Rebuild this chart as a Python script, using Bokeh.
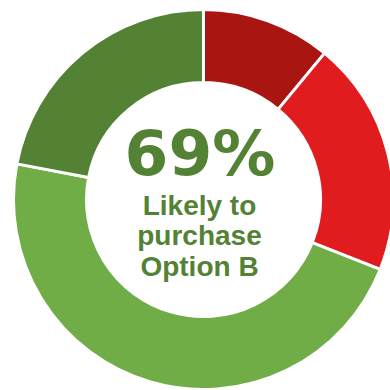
import math
from bokeh.plotting import figure
from bokeh.models import ColumnDataSource, Range1d
from bokeh.core.properties import value
from bokeh.embed import file_html
from bokeh.resources import INLINE

# Data
categories = ["Very unlikely", "Unlikely", "Likely", "Very likely"]
shares = [11, 20, 47, 22]
colors = ["#A91511", "#E01C1F", "#70AD47", "#548235"]
headline = "69%"
caption = ["Likely to", "purchase", "Option B"]

W, H = 390, 390
total = sum(shares)
starts, ends = [], []
cum = 0.0
for s in shares:
    starts.append(math.pi / 2 - 2 * math.pi * cum / total)
    cum += s
    ends.append(math.pi / 2 - 2 * math.pi * cum / total)

src = ColumnDataSource(dict(cat=categories, share=shares, color=colors,
                            start=starts, end=ends))

p = figure(width=W, height=H, output_backend="svg", toolbar_location=None,
           x_range=Range1d(0, W), y_range=Range1d(0, H), min_border=0,
           background_fill_color="white", border_fill_color="white")
p.axis.visible = False
p.grid.visible = False
p.outline_line_color = None

cx, cy = 203, 191
p.annular_wedge(x=cx, y=cy, inner_radius=117, outer_radius=190,
                start_angle="start", end_angle="end", direction="clock",
                fill_color="color", line_color="white", line_width=3,
                source=src)

p.text(x=[cx - 3.5], y=[cy + 46], text=[headline], text_align="center",
       text_baseline="middle", text_font=value("DejaVu Sans"),
       text_font_style="bold", text_font_size="63px", text_color="#548235")

p.text(x=[cx - 4] * 3, y=[cy - 6, cy - 36, cy - 67], text=caption,
       text_align="center", text_baseline="middle",
       text_font=value("Liberation Sans"), text_font_style="bold",
       text_font_size="28px", text_color="#548235")

open("out.html", "w").write(file_html(p, INLINE))
